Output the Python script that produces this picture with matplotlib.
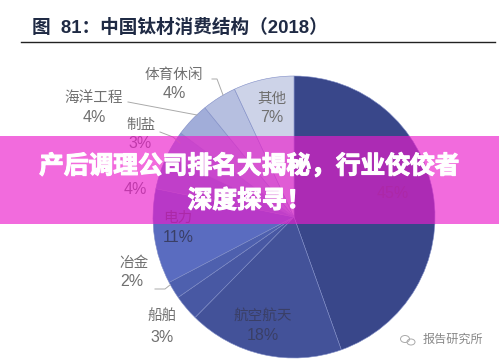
import matplotlib
matplotlib.use("Agg")
import matplotlib.pyplot as plt
import matplotlib.patheffects as pe
from matplotlib.patches import Rectangle, Ellipse

plt.rcParams['font.family'] = ['Liberation Sans', 'Noto Sans CJK SC', 'DejaVu Sans']

W, H = 499, 361

# clockwise from 12 o'clock, the name of the 4% slice is hidden by the banner
names = ['', '航空航天', '船舶', '冶金', '电力', '', '制盐', '海洋工程', '体育休闲', '其他']
values = [45, 18, 3, 2, 11, 4, 3, 4, 4, 7]
colors = ['#39478a', '#435299', '#4858a3', '#4e60ae', '#5a6cc0', '#7181c8',
          '#8b99d2', '#a1add9', '#b6bfe0', '#cdd3e8']

title = '图  81：中国钛材消费结构（2018）'
banner_lines = ['产后调理公司排名大揭秘，行业佼佼者', '深度探寻！']
source = '报告研究所'

# name centre and percent centre in picture pixels
name_pos = [None, (263, 316), (162, 317), (134, 263), (178, 218), None, (141, 125), (94, 98), (174, 75), (272, 99)]
pct_pos = [(393, 194), (263, 336), (162, 337), (132, 282), (178, 238), (135, 190), (140, 144), (94, 117), (174, 93), (272, 118)]

fig = plt.figure(figsize=(W / 100, H / 100), dpi=100)
ax = fig.add_axes([0, 0, 1, 1])

# y axis is flipped below, so counterclock=True runs clockwise on screen
ax.pie(values, colors=colors, center=(294, 217), radius=141, startangle=-90,
       counterclock=True, frame=False,
       wedgeprops=dict(edgecolor='#7f8cc6', linewidth=0.4))
ax.set_aspect('auto')
ax.set_xlim(0, W)
ax.set_ylim(H, 0)
ax.axis('off')

ax.text(32, 28, title, fontsize=13.4, fontweight='bold', color='#1f2a44', va='center')
ax.plot([21, 495], [42, 42], color='#222222', lw=1)

dark = ('航空航天', '电力', '')
for n, v, np_, pp in zip(names, values, name_pos, pct_pos):
    col = '#3a3f66' if n in dark and pp != (135, 190) else '#707070'
    if np_ is not None:
        ax.text(np_[0], np_[1], n, fontsize=10.5, color=col, ha='center', va='center')
    ax.text(pp[0], pp[1], f'{v}%', fontsize=11.5, color=col, ha='center', va='center')

# leader lines
ax.plot([212, 217, 223], [79, 79, 95], color='#aaaaaa', lw=0.7)
ax.plot([128, 197], [102, 115], color='#aaaaaa', lw=0.7)
ax.plot([160, 173, 180], [132, 137, 143], color='#aaaaaa', lw=0.7)
ax.plot([155, 165, 170], [289, 289, 285], color='#aaaaaa', lw=0.7)

# watermark
ax.add_patch(Ellipse((405, 339), 9, 7, fill=False, ec='#aaaaaa', lw=0.7))
ax.add_patch(Ellipse((411, 342), 8, 6, fill=False, ec='#aaaaaa', lw=0.7))
ax.text(423, 340, source, fontsize=8.7, color='#888888', ha='left', va='center')

ax.add_patch(Rectangle((0, 136), W, 88, facecolor='#eb1ccb', alpha=0.65, edgecolor='none', zorder=5))
bold = [pe.withStroke(linewidth=0.8, foreground='white')]
ax.text(W / 2, 166, banner_lines[0], fontsize=17.8, fontweight='bold', color='white', ha='center', va='center',
        zorder=6, path_effects=bold)
ax.text(W / 2, 201, banner_lines[1], fontsize=17.8, fontweight='bold', color='white', ha='center', va='center',
        zorder=6, path_effects=bold)

fig.savefig('out.png', dpi=100)
